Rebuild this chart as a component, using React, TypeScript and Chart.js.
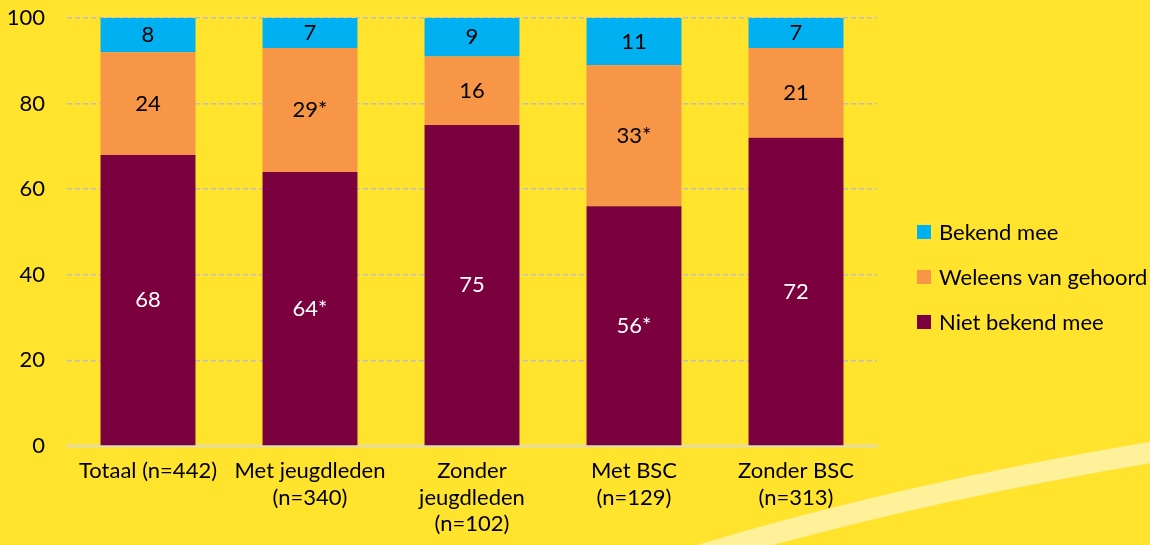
import React, { useEffect, useRef } from "react";
import { Chart, registerables } from "chart.js";

Chart.register(...registerables);

const categories: string[][] = [
  ["Totaal (n=442)"],
  ["Met jeugdleden", "(n=340)"],
  ["Zonder", "jeugdleden", "(n=102)"],
  ["Met BSC", "(n=129)"],
  ["Zonder BSC", "(n=313)"],
];
const nietBekend = [68, 64, 75, 56, 72];
const weleens = [24, 29, 16, 33, 21];
const bekend = [8, 7, 9, 11, 7];
const nietBekendSig = [false, true, false, true, false];
const weleensSig = [false, true, false, true, false];
const bekendSig = [false, false, false, false, false];
const yTicks = [0, 20, 40, 60, 80, 100];

const FONT = "Lato";
const BG = "#FFE32D";
const COLORS = { bekend: "#00B0F0", weleens: "#F79646", niet: "#7B003E" };

const legendItems = [
  { label: "Bekend mee", color: COLORS.bekend },
  { label: "Weleens van gehoord", color: COLORS.weleens },
  { label: "Niet bekend mee", color: COLORS.niet },
];

export default function App() {
  const ref = useRef<HTMLCanvasElement | null>(null);

  useEffect(() => {
    document.body.style.margin = "0";
    document.body.style.background = BG;
    const canvas = ref.current;
    if (!canvas) return;

    const bgPlugin = {
      id: "bg",
      beforeDraw(chart: any) {
        const ctx = chart.ctx;
        ctx.save();
        ctx.fillStyle = BG;
        ctx.fillRect(0, 0, chart.width, chart.height);
        ctx.strokeStyle = "#FFF09A";
        ctx.lineWidth = 21;
        ctx.beginPath();
        ctx.moveTo(700, 555);
        ctx.quadraticCurveTo(910, 492, 1165, 450);
        ctx.stroke();
        ctx.restore();
      },
    };

    const labelPlugin = {
      id: "vlabels",
      afterDatasetsDraw(chart: any) {
        const ctx = chart.ctx;
        ctx.save();
        ctx.font = `22px ${FONT}`;
        ctx.textAlign = "center";
        ctx.textBaseline = "middle";
        chart.data.datasets.forEach((ds: any, di: number) => {
          const meta = chart.getDatasetMeta(di);
          meta.data.forEach((el: any, i: number) => {
            const v = ds.data[i];
            const sig = ds.sig[i];
            ctx.fillStyle = ds.labelColor;
            ctx.fillText(String(v) + (sig ? "*" : ""), el.x, (el.y + el.base) / 2);
          });
        });
        ctx.restore();
      },
    };

    const chart = new Chart(canvas, {
      type: "bar",
      data: {
        labels: categories as any,
        datasets: [
          { label: "Niet bekend mee", data: nietBekend, backgroundColor: COLORS.niet, sig: nietBekendSig, labelColor: "#FFFFFF" } as any,
          { label: "Weleens van gehoord", data: weleens, backgroundColor: COLORS.weleens, sig: weleensSig, labelColor: "#000000" } as any,
          { label: "Bekend mee", data: bekend, backgroundColor: COLORS.bekend, sig: bekendSig, labelColor: "#000000" } as any,
        ],
      },
      options: {
        animation: false,
        responsive: false,
        maintainAspectRatio: false,
        layout: { padding: { top: 18, right: 273, left: 0, bottom: 0 } },
        datasets: { bar: { categoryPercentage: 1, barPercentage: 0.586 } },
        plugins: { legend: { display: false }, tooltip: { enabled: false } },
        scales: {
          x: {
            stacked: true,
            grid: { display: false, drawTicks: false },
            border: { display: true, color: "#D9D9D9", width: 2 },
            ticks: { color: "#000", font: { family: FONT, size: 22, lineHeight: 1.2 }, padding: 12, maxRotation: 0, autoSkip: false },
            afterFit(s: any) { s.height = 545 - 446; },
          },
          y: {
            stacked: true,
            min: 0,
            max: 100,
            afterBuildTicks(s: any) { s.ticks = yTicks.map((v) => ({ value: v })); },
            grid: {
              drawTicks: false,
              color: (c: any) => (c.tick && c.tick.value === 0 ? "rgba(0,0,0,0)" : "#BFBFBF"),
              lineWidth: 1.5,
            },
            border: { display: false, dash: [5, 3] },
            ticks: { color: "#000", font: { family: FONT, size: 22 }, padding: 22 },
            afterFit(s: any) { s.width = 67; s.paddingTop = 0; s.paddingBottom = 0; },
          },
        },
      } as any,
      plugins: [bgPlugin, labelPlugin],
    });
    return () => chart.destroy();
  }, []);

  const rowCenters = [232, 277, 322];
  return (
    <div style={{ position: "absolute", left: 0, top: 0, width: 1150, height: 545, background: BG, fontFamily: FONT }}>
      <canvas ref={ref} width={1150} height={545} style={{ position: "absolute", left: 0, top: 0 }} />
      {legendItems.map((it, i) => (
        <React.Fragment key={it.label}>
          <span style={{ position: "absolute", left: 917, top: rowCenters[i] - 7, width: 14, height: 14, background: it.color }} />
          <span style={{ position: "absolute", left: 939, top: rowCenters[i] - 14, height: 28, lineHeight: "28px", fontSize: 22, color: "#000", whiteSpace: "nowrap" }}>{it.label}</span>
        </React.Fragment>
      ))}
    </div>
  );
}
